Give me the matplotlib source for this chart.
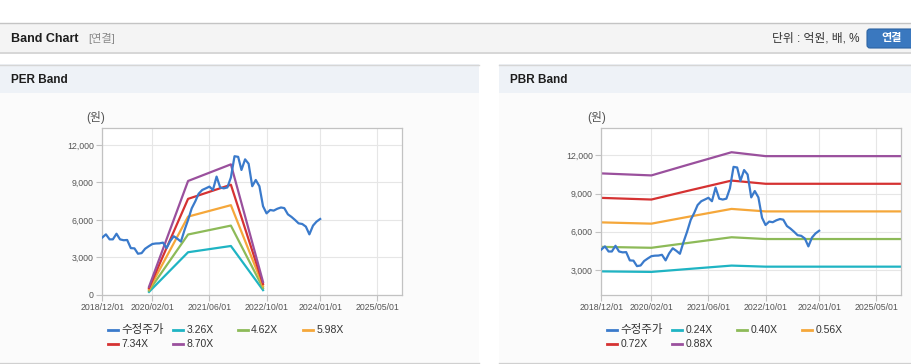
import matplotlib
matplotlib.use("Agg")
import matplotlib.pyplot as plt
import matplotlib.dates as mdates
from matplotlib.patches import Rectangle, FancyBboxPatch
from matplotlib.lines import Line2D
import pandas as pd

plt.rcParams['font.family'] = ['Liberation Sans', 'Noto Sans CJK KR', 'DejaVu Sans']

# adjusted price, monthly 2018/12 .. 2024/01
price_dates = pd.date_range('2018-12-01', periods=62, freq='MS')
price = [4600, 4850, 4450, 4450, 4900, 4450, 4380, 4400, 3750, 3730,
         3300, 3350, 3700, 3900, 4080, 4120, 4130, 4190, 3750, 4300,
         4700, 4500, 4270, 5200, 6000, 6930, 7500, 8100, 8400, 8530,
         8670, 8400, 9470, 8600, 8530, 8600, 9400, 11100, 11050, 10000,
         10850, 10500, 8700, 9200, 8700, 7100, 6530, 6800, 6750, 6900,
         7000, 6950, 6450, 6250, 6000, 5730, 5680, 5470, 4850, 5550,
         5870, 6080]

# PER band
per_dates = pd.to_datetime(['2020-01-03', '2020-12-01', '2021-12-01', '2022-09-01'])
per_labels = ['3.26X', '4.62X', '5.98X', '7.34X', '8.70X']
per_326 = [245, 3420, 3920, 390]
per_462 = [346, 4840, 5550, 555]
per_598 = [449, 6270, 7185, 718]
per_734 = [550, 7690, 8820, 880]
per_870 = [652, 9120, 10450, 1044]

# PBR band
pbr_dates = pd.to_datetime(['2018-12-01', '2020-02-01', '2020-12-01', '2021-12-15',
                            '2022-10-01', '2025-12-01'])
pbr_labels = ['0.24X', '0.40X', '0.56X', '0.72X', '0.88X']
pbr_024 = [2887, 2844, 3067, 3341, 3257, 3257]
pbr_040 = [4812, 4740, 5112, 5568, 5428, 5428]
pbr_056 = [6737, 6636, 7157, 7795, 7599, 7599]
pbr_072 = [8662, 8532, 9202, 10022, 9770, 9770]
pbr_088 = [10586, 10428, 11246, 12250, 11942, 11942]

tick_dates = pd.to_datetime(['2018-12-01', '2020-02-01', '2021-06-01',
                             '2022-10-01', '2024-01-01', '2025-05-01'])

price_color = '#3a7acb'
band_colors = ['#1fb4c3', '#8dba58', '#f5a73a', '#d53232', '#9a509d']

W, H = 912, 364
fig = plt.figure(figsize=(W / 100, H / 100), dpi=100)
fig.patch.set_facecolor('white')

# background in pixel coordinates
bg = fig.add_axes([0, 0, 1, 1])
bg.set_xlim(0, W)
bg.set_ylim(H, 0)
bg.axis('off')

bg.add_patch(Rectangle((0, 23), W, 29, fc='#f4f4f4', ec='none'))
bg.plot([0, W], [22.5, 22.5], color='#c4c4c4', lw=1)
bg.plot([0, W], [52.5, 52.5], color='#cfcfcf', lw=1.2)
bg.text(11, 38.5, 'Band Chart', fontsize=9, fontweight='bold', color='#1e1e1e', va='center')
bg.text(88, 38.5, '[연결]', fontsize=8, color='#8a8a8a', va='center')
bg.text(860, 38.5, '단위 : 억원, 배, %', fontsize=8.5, color='#333333', va='center', ha='right')
bg.add_patch(FancyBboxPatch((867, 29), 50, 19, boxstyle='round,pad=0,rounding_size=3',
                            fc='#3a78bf', ec='#2d64a3', lw=0.8))
bg.text(892, 38.5, '연결', fontsize=8, fontweight='bold', color='white', va='center', ha='center')

for x0, x1, title in [(0, 479, 'PER Band'), (499, W, 'PBR Band')]:
    bg.add_patch(Rectangle((x0, 64), x1 - x0, 29, fc='#eef2f7', ec='none'))
    bg.add_patch(Rectangle((x0, 93), x1 - x0, 269, fc='#fbfbfb', ec='none'))
    bg.plot([x0, x1], [64.5, 64.5], color='#d6d6d6', lw=1)
    bg.plot([x0, x1], [362.5, 362.5], color='#d0d0d0', lw=1)
    bg.text(x0 + 11, 80, title, fontsize=8.5, fontweight='bold', color='#1e1e1e', va='center')


def band_axes(left, series, labels, dates, ylim, yticks, unit_x, leg_x):
    ax = fig.add_axes([left / W, 1 - 295 / H, 300 / W, (295 - 128.3) / H])
    ax.set_facecolor('white')
    ax.plot(price_dates, price, color=price_color, lw=1.6, zorder=3)
    for vals, c in zip(series, band_colors):
        ax.plot(dates, vals, color=c, lw=1.6, zorder=2)
    ax.set_xlim(pd.Timestamp('2018-12-01'), pd.Timestamp('2025-12-01'))
    ax.set_ylim(*ylim)
    ax.set_xticks(tick_dates)
    ax.xaxis.set_major_formatter(mdates.DateFormatter('%Y/%m/%d'))
    ax.set_yticks(yticks)
    ax.set_yticklabels([f'{v:,}' for v in yticks])
    ax.grid(True, color='#e6e6e6', lw=0.8, zorder=0)
    ax.set_axisbelow(True)
    for s in ax.spines.values():
        s.set_color('#c2c2c2')
        s.set_linewidth(0.9)
    ax.tick_params(axis='both', colors='#c2c2c2', labelcolor='#555555',
                   length=4, width=0.8, pad=2)
    ax.tick_params(axis='x', labelsize=6.3)
    ax.tick_params(axis='y', labelsize=6.3)
    bg.text(unit_x, 117, '(원)', fontsize=8.5, color='#555555', va='center', ha='center')

    names = ['수정주가'] + labels
    colors = [price_color] + band_colors
    sizes = [8.3] + [7.5] * len(labels)
    xs = [leg_x, leg_x + 65, leg_x + 130, leg_x + 195, leg_x, leg_x + 65]
    ys = [330.3, 330.3, 330.3, 330.3, 343.7, 343.7]
    for name, c, fs, x, y in zip(names, colors, sizes, xs, ys):
        bg.add_line(Line2D([x, x + 10.5], [y, y], color=c, lw=2))
        bg.text(x + 13.5, y, name, fontsize=fs, color='#333333', va='center')
    return ax


band_axes(102.3, [per_326, per_462, per_598, per_734, per_870], per_labels, per_dates,
          (0, 13333), [0, 3000, 6000, 9000, 12000], 96, 107.7)
band_axes(601.3, [pbr_024, pbr_040, pbr_056, pbr_072, pbr_088], pbr_labels, pbr_dates,
          (1030, 14130), [3000, 6000, 9000, 12000], 597, 606.7)

fig.savefig('out.png', dpi=100)
